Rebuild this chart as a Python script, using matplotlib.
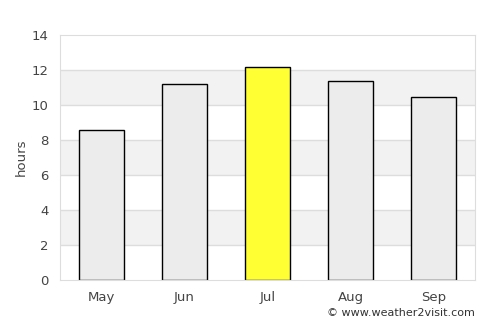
import matplotlib
matplotlib.use("Agg")
import matplotlib.pyplot as plt

months = ["May", "Jun", "Jul", "Aug", "Sep"]
hours = [8.55, 11.2, 12.15, 11.35, 10.45]
colors = ["#ececec", "#ececec", "#ffff33", "#ececec", "#ececec"]
yticks = [0, 2, 4, 6, 8, 10, 12, 14]

fig = plt.figure(figsize=(5, 3.25), dpi=100)
ax = fig.add_axes([60/500, 1-280/325, 415/500, 245/325])
ax.set_xlim(-0.5, 4.5)
ax.set_ylim(0, 14)
for lo in [2, 6, 10]:
    ax.axhspan(lo, lo + 2, color="#f2f2f2", zorder=0, lw=0)
for y in yticks[1:-1]:
    ax.axhline(y, color="#dddddd", lw=1, zorder=1)
ax.bar(range(len(months)), hours, width=0.54, color=colors, edgecolor="black", linewidth=1, zorder=2)
ax.set_xticks(range(len(months)))
ax.set_xticklabels(months)
ax.set_yticks(yticks)
ax.tick_params(length=0, labelsize=9.5, colors="#444444", pad=8)
for s in ax.spines.values():
    s.set_color("#dddddd")
ax.set_ylabel("hours", fontsize=9.5, color="#444444", labelpad=3)
fig.text(475/500, 1-313/325, "© www.weather2visit.com", ha="right", va="center", fontsize=8, color="#333333")
fig.savefig("out.png", dpi=100)
